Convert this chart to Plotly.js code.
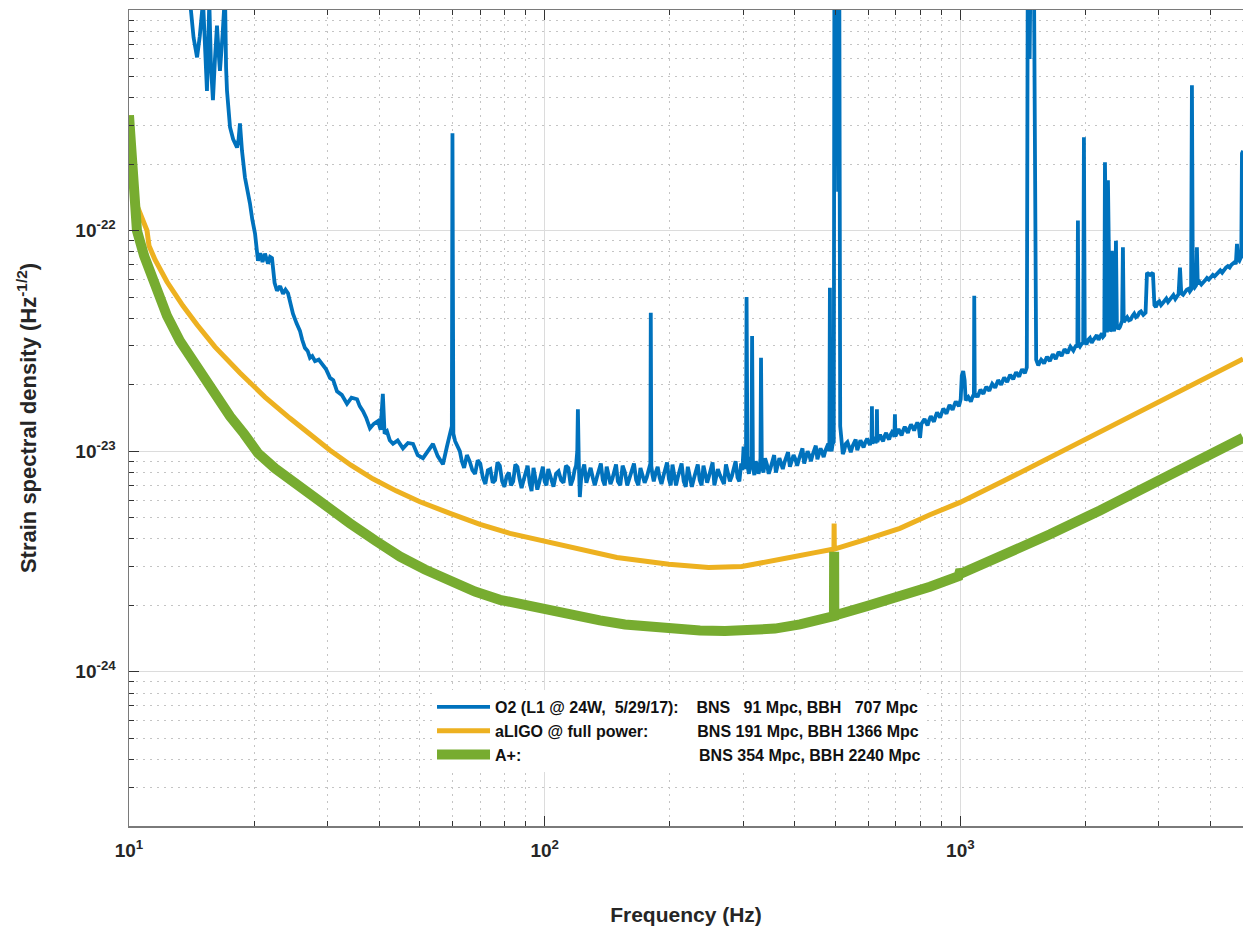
<!DOCTYPE html>
<html><head><meta charset="utf-8">
<script src="https://cdn.plot.ly/plotly-3.0.1.min.js"></script>
<style>html,body{margin:0;padding:0;background:#fff;}#chart{width:1243px;height:928px;}</style>
</head><body><div id="chart"></div>
<script>
// O2 L1 measured strain ASD, [frequency Hz, strain / sqrt(Hz)]
const o2Spectrum = [
 [13.9,1.3e-21],[14.3,7.5e-22],[14.58,6.1e-22],[14.8,7.6e-22],[15.07,1.1e-21],[15.25,6.0e-22],[15.4,4.3e-22],[15.5,6.5e-22],[15.6,1.1e-21],[15.75,5.5e-22],
 [15.92,3.9e-22],[16.1,6.0e-22],[16.28,8.5e-22],[16.45,6.2e-22],[16.55,5.3e-22],[16.8,7.8e-22],[17.02,1.2e-21],[17.12,5.5e-22],[17.21,4.3e-22],[17.5,2.94e-22],
 [17.8,2.6e-22],[18.19,2.38e-22],[18.35,2.6e-22],[18.49,3.06e-22],[18.7,2.3e-22],[19.01,1.74e-22],[19.25,1.55e-22],[19.54,1.33e-22],[19.8,1.12e-22],[20.1,9.7e-23],
 [20.43,7.3e-23],[20.7,7.9e-23],[20.95,7.2e-23],[21.24,7.86e-23],[21.6,7.08e-23],[21.85,7.6e-23],[22.08,7.5e-23],[22.4,5.8e-23],[22.7,5.34e-23],[23.1,5.6e-23],
 [23.47,5.17e-23],[23.8,5.4e-23],[24.13,5.2e-23],[24.5,4.5e-23],[24.8,4.2e-23],[25.3,3.8e-23],[25.78,3.51e-23],[26.1,3.2e-23],[26.5,2.94e-23],[26.9,2.85e-23],
 [27.25,2.65e-23],[27.6,2.7e-23],[28.02,2.56e-23],[28.6,2.6e-23],[29.29,2.43e-23],[29.8,2.35e-23],[30.45,2.15e-23],[31.0,2.1e-23],[31.65,1.87e-23],[32.5,1.8e-23],
 [33.45,1.64e-23],[34.3,1.75e-23],[35.37,1.72e-23],[35.9,1.6e-23],[36.56,1.52e-23],[37.2,1.42e-23],[37.99,1.27e-23],[38.8,1.33e-23],[39.72,1.37e-23],[40.3,1.25e-23],
 [40.8,1.82e-23],[41.2,1.2e-23],[41.75,1.23e-23],[42.4,1.12e-23],[43.16,1.08e-23],[44.3,1.12e-23],[45.61,1.03e-23],[46.9,1.09e-23],[48.22,1.08e-23],[49.5,9.6e-24],
 [50.96,9.3e-24],[52.3,1.0e-23],[53.86,1.08e-23],[55.3,9.5e-24],[56.93,8.73e-24],[58.2,1.05e-23],[59.18,1.19e-23],[59.8,1.3e-23],[60.0,2.76e-22],[60.3,1.2e-23],
 [60.9,1.11e-23],
 [62.5,1.0e-23],[63.2,9.0e-24],[64,8.4e-24],[65,9.6e-24],[66,9.0e-24],[67,8.2e-24],[68,7.9e-24],[69,9.1e-24],[70,8.8e-24],[71,7.6e-24],
 [72,7.1e-24],[73,8.2e-24],[74,8.3e-24],[75,7.2e-24],[76,7.4e-24],[77,8.9e-24],[78,8.6e-24],[79,7.3e-24],[80,6.9e-24],[81,7.7e-24],
 [82,8.0e-24],[83,7.0e-24],[84,7.3e-24],[85,8.7e-24],[86,8.5e-24],[87,7.5e-24],[88,6.8e-24],[89,7.4e-24],[90,7.9e-24],[91,8.6e-24],
 [92,7.2e-24],[93,6.6e-24],[94,8.4e-24],[95,7.6e-24],[96,6.7e-24],[97,7.2e-24],[98,7.8e-24],[99,8.5e-24],[100,7.3e-24],[101,7.0e-24],
 [102,8.3e-24],[103.5,7.6e-24],[105,6.9e-24],[106.5,7.9e-24],[108,8.1e-24],[109.5,7.4e-24],[111,7.2e-24],[112.5,8.6e-24],[114,8.4e-24],[115.5,7.0e-24],
 [117,7.5e-24],[118,8.2e-24],[119,8.6e-24],[119.8,1.0e-23],[120.2,1.55e-23],[120.8,9.0e-24],[121.5,6.2e-24],[122.3,7.4e-24],[123,8.0e-24],[124.5,8.7e-24],
 [126,7.2e-24],[127.5,7.8e-24],[129,8.4e-24],[130.5,7.6e-24],[132,7.0e-24],[133.5,7.6e-24],[135,8.2e-24],[136.5,8.8e-24],[138,7.4e-24],[139.5,7.0e-24],
 [141,8.5e-24],[142.5,7.8e-24],[144,7.1e-24],[145.5,7.5e-24],[147,8.0e-24],[148.5,8.7e-24],[150,7.3e-24],[152,7.0e-24],[154,8.6e-24],[156,8.0e-24],
 [158,7.0e-24],[160,7.6e-24],[162,8.2e-24],[164,8.8e-24],[166,7.4e-24],[168,7.0e-24],[170,8.4e-24],[172,7.8e-24],[174,7.2e-24],[176,7.6e-24],
 [178,8.3e-24],[179.6,8.8e-24],[180,4.24e-23],[180.5,8.6e-24],[181.7,7.8e-24],[183,7.3e-24],[185,8.0e-24],[187,8.5e-24],[189,7.6e-24],[191,7.1e-24],
 [193,7.7e-24],[195,8.3e-24],[197,8.9e-24],[199,7.5e-24],[201,7.0e-24],[203,8.7e-24],[205,7.9e-24],[207,7.0e-24],[209,7.6e-24],[211,8.2e-24],
 [213.5,8.8e-24],[216,7.3e-24],[218.5,6.9e-24],[221,8.5e-24],[223.5,7.7e-24],[226,6.9e-24],[228.5,7.5e-24],[231,8.1e-24],[233.5,8.7e-24],[236,7.4e-24],
 [238.5,7.0e-24],[241,8.6e-24],[243.5,7.9e-24],[246,7.2e-24],[248.5,7.7e-24],[251,8.4e-24],[253.5,8.9e-24],[256,7.0e-24],[258.5,7.5e-24],[261,8.3e-24],
 [264,7.8e-24],[267,7.5e-24],[270,7.1e-24],[273,8.7e-24],[276,8.0e-24],[279,7.3e-24],[282,7.7e-24],[285,8.5e-24],[288,9.0e-24],[291,7.6e-24],
 [294,7.3e-24],[297,8.8e-24],[299,8.2e-24],[301,1.05e-23],[303,8.3e-24],[305,9.0e-24],[306,5.0e-23],[307.5,8.6e-24],[310,7.9e-24],[312,8.8e-24],
 [314.5,9.5e-24],[315.5,3.33e-23],[317,8.4e-24],[319.5,7.8e-24],[322,9.0e-24],[324.5,8.6e-24],[327,7.9e-24],[329,8.4e-24],[330.5,9.3e-24],[331.5,2.65e-23],
 [333,8.5e-24],[336,8.0e-24],[339,9.3e-24],[342.5,8.7e-24],[346,7.9e-24],[349.5,8.4e-24],[353,9.1e-24],[356.5,9.6e-24],[360,8.0e-24],[363.5,8.6e-24],
 [367,9.3e-24],[370.5,8.8e-24],[374,8.3e-24],[377.5,8.9e-24],[381,9.4e-24],[385,9.9e-24],[389,8.5e-24],[393,9.0e-24],[397,9.6e-24],[401,9.2e-24],
 [405,8.6e-24],[409,9.2e-24],[413,9.8e-24],[417,1.03e-23],[421,8.8e-24],[425,9.4e-24],[429,1.0e-23],[433,9.6e-24],[437,9.0e-24],[441,9.6e-24],
 [445,1.0e-23],[449,1.06e-23],[453,9.2e-24],[457,9.8e-24],[461,1.03e-23],[465,9.9e-24],[469,9.4e-24],[473,1.0e-23],[477,1.05e-23],[481,1.08e-23],
 [484,1.0e-23],[485.5,5.5e-23],[487,1.05e-23],[490,1.0e-23],[493,1.08e-23],[496,1.1e-23],[498,3.0e-21],[501,2.0e-22],[504,3.0e-21],[508,1.5e-22],
 [511,3.0e-21],[514,1.3e-23],[518,1.05e-23],[521.5,9.7e-24],
 [525,1.0e-23],[530,1.08e-23],[535,1.1e-23],[540,1.03e-23],[545,9.9e-24],[550,1.05e-23],[555,1.09e-23],[560,1.13e-23],[565,1.01e-23],[570,1.06e-23],
 [575,1.12e-23],[580,1.08e-23],[585,1.04e-23],[591,1.1e-23],[597,1.14e-23],[601,1.1e-23],[606,1.07e-23],[611.5,1.12e-23],[612.8,1.6e-23],[614,1.08e-23],
 [617.5,1.13e-23],[621,1.16e-23],[625,1.09e-23],[628.5,1.12e-23],[630,1.55e-23],[631.5,1.1e-23],[636,1.15e-23],[641,1.19e-23],[646,1.14e-23],[652,1.11e-23],
 [657,1.17e-23],[663,1.21e-23],[668,1.16e-23],[674,1.13e-23],[680,1.19e-23],[685,1.22e-23],[690,1.2e-23],[694,1.16e-23],[696,1.47e-23],[698,1.17e-23],
 [704,1.21e-23],[710,1.26e-23],[716,1.22e-23],[722,1.18e-23],[728,1.24e-23],[735,1.29e-23],[741,1.25e-23],[748,1.21e-23],[754,1.27e-23],[761,1.32e-23],
 [767,1.29e-23],[774,1.24e-23],[781,1.3e-23],[788,1.35e-23],[794,1.3e-23],[800,1.15e-23],[806,1.33e-23],[813,1.37e-23],[820,1.4e-23],[827,1.35e-23],
 [834,1.31e-23],[841,1.38e-23],[849,1.44e-23],[856,1.4e-23],[864,1.36e-23],[871,1.43e-23],[879,1.5e-23],[886,1.46e-23],[894,1.42e-23],[902,1.49e-23],
 [910,1.56e-23],[918,1.52e-23],[926,1.48e-23],[934,1.55e-23],[942,1.62e-23],[950,1.58e-23],[958,1.54e-23],[966,1.61e-23],[975,1.68e-23],[983,1.64e-23],
 [992,1.6e-23],[997,1.66e-23],[1002,1.72e-23],[1008,2.2e-23],[1016,2.31e-23],[1024,2.1e-23],[1030,1.7e-23],[1037,1.73e-23],[1045,1.76e-23],[1052,1.72e-23],
 [1060,1.68e-23],[1067,1.74e-23],[1075,1.8e-23],[1078,1.75e-23],[1080,5.07e-23],[1083,1.82e-23],[1091,1.8e-23],[1100,1.76e-23],[1109,1.83e-23],[1118,1.9e-23],
 [1127,1.86e-23],[1136,1.82e-23],[1145,1.89e-23],[1155,1.96e-23],[1164,1.92e-23],[1174,1.88e-23],[1183,1.95e-23],[1193,2.02e-23],[1203,1.98e-23],[1213,1.94e-23],
 [1223,2.02e-23],[1233,2.1e-23],[1243,2.05e-23],[1254,2.0e-23],[1264,2.08e-23],[1275,2.16e-23],[1285,2.11e-23],[1296,2.06e-23],[1307,2.14e-23],[1318,2.22e-23],
 [1329,2.17e-23],[1340,2.12e-23],[1351,2.2e-23],[1362,2.28e-23],[1373,2.23e-23],[1385,2.18e-23],[1396,2.27e-23],[1408,2.35e-23],[1419,2.3e-23],[1430,2.26e-23],
 [1445,2.4e-23],[1454,3.0e-21],[1468,6.0e-22],[1480,3.0e-21],[1500,3.0e-21],[1512,1.1e-22],[1522,2.6e-23],[1531,2.52e-23],[1540,2.45e-23],[1552,2.53e-23],
 [1565,2.6e-23],[1577,2.56e-23],[1590,2.5e-23],[1603,2.59e-23],[1616,2.68e-23],[1629,2.62e-23],[1642,2.56e-23],[1655,2.66e-23],[1669,2.75e-23],[1682,2.69e-23],
 [1696,2.62e-23],[1710,2.72e-23],[1724,2.82e-23],[1738,2.76e-23],[1752,2.7e-23],[1766,2.8e-23],[1781,2.9e-23],[1795,2.84e-23],[1810,2.78e-23],[1825,2.88e-23],
 [1840,2.98e-23],[1855,2.92e-23],[1870,2.86e-23],[1885,2.95e-23],[1900,3.02e-23],[1912,2.95e-23],[1918,1.11e-22],[1924,3.05e-23],[1940,2.98e-23],[1957,3.06e-23],
 [1975,3.1e-23],[1983,2.65e-22],[1992,3.12e-23],[2011,3.05e-23],[2030,3.2e-23],[2050,3.26e-23],[2070,3.1e-23],[2090,3.2e-23],[2110,3.3e-23],[2130,3.36e-23],
 [2150,3.2e-23],[2170,3.32e-23],[2190,3.42e-23],[2205,3.3e-23],[2220,3.35e-23],[2228,2.04e-22],[2240,3.6e-23],[2252,3.45e-23],[2265,1.69e-22],[2280,3.7e-23],
 [2290,3.5e-23],[2300,3.55e-23],[2316,8.1e-23],[2330,3.6e-23],[2342,3.5e-23],[2355,3.7e-23],[2368,9.0e-23],[2380,3.75e-23],[2400,3.58e-23],[2420,3.65e-23],
 [2435,3.8e-23],[2450,3.9e-23],[2461,8.4e-23],[2472,3.85e-23],[2496,3.95e-23],[2520,4.05e-23],[2545,3.92e-23],[2570,3.95e-23],[2595,4.1e-23],[2620,4.2e-23],
 [2645,4.05e-23],[2670,4.1e-23],[2695,4.25e-23],[2720,4.3e-23],[2755,4.15e-23],[2790,4.25e-23],[2812,6.44e-23],[2860,6.3e-23],[2906,6.44e-23],[2930,4.6e-23],
 [2955,4.5e-23],[2980,4.7e-23],[3010,4.78e-23],[3040,4.6e-23],[3070,4.7e-23],[3100,4.85e-23],[3130,4.92e-23],[3160,4.75e-23],[3190,4.85e-23],[3220,5.0e-23],
 [3255,5.1e-23],[3290,4.9e-23],[3320,5.0e-23],[3350,5.15e-23],[3376,6.8e-23],[3400,5.2e-23],[3435,5.12e-23],[3470,5.3e-23],[3505,5.4e-23],[3540,5.45e-23],
 [3565,5.3e-23],[3590,5.4e-23],[3607,4.56e-22],[3625,5.6e-23],[3655,5.5e-23],[3690,5.65e-23],[3708,8.4e-23],[3725,5.75e-23],[3760,5.85e-23],[3800,5.7e-23],
 [3840,5.8e-23],[3880,5.95e-23],[3920,6.1e-23],[3960,6.0e-23],[4005,6.15e-23],[4050,6.3e-23],[4090,6.2e-23],[4130,6.35e-23],[4175,6.5e-23],[4220,6.6e-23],
 [4265,6.45e-23],[4310,6.65e-23],[4355,6.8e-23],[4400,6.9e-23],[4445,6.8e-23],[4490,7.0e-23],[4530,7.1e-23],[4570,7.2e-23],[4600,7.05e-23],[4629,8.7e-23],
 [4660,7.4e-23],[4690,7.3e-23],[4720,7.5e-23],[4740,7.6e-23],[4759,2.24e-22],[4790,2.3e-22]
];
// aLIGO design at full power
const aligoFreq = [10,10.22,10.45,11.05,11.17,11.55,12.34,13.48,14.58,16.1,
 18.5,21.24,24.4,27.25,30.45,34.2,38.6,43.9,50.1,59.2,
 69.9,82.5,100,121.6,149.2,199,248,298,329.6,400,
 447,494,496.5,497,497.5,593,715.6,845,998,1266,
 1500,2000,3000,4000,4786];
const aligoAsd = [3.33e-22,1.87e-22,1.3e-22,1.0e-22,8.55e-23,7.38e-23,5.86e-23,4.56e-23,3.74e-23,2.97e-23,
 2.26e-23,1.76e-23,1.41e-23,1.195e-23,1.01e-23,8.64e-24,7.5e-24,6.61e-24,5.9e-24,5.23e-24,
 4.66e-24,4.24e-24,3.9e-24,3.58e-24,3.3e-24,3.07e-24,2.97e-24,3.0e-24,3.1e-24,3.33e-24,
 3.47e-24,3.58e-24,3.6e-24,4.7e-24,3.6e-24,3.98e-24,4.47e-24,5.15e-24,5.86e-24,7.3e-24,
 8.6e-24,1.13e-23,1.67e-23,2.19e-23,2.62e-23];
// A+ design
const aplusFreq = [10,10.17,10.28,10.45,10.87,11.42,12.34,13.26,14.58,15.92,
 17.5,18.91,20.43,22.45,24.66,28.96,34.01,39.06,44.86,51.52,
 59.18,67.97,78.06,87.24,100,115.05,135.8,156,179.2,205.8,
 236.4,271.5,311.8,358.1,411.3,451.8,493.8,496.5,497,497.5,
 592.9,715.6,845.2,990,1000,1010,1245,1643,2167,2972,
 3771,4786];
const aplusAsd = [3.33e-22,1.97e-22,1.37e-22,1.0e-22,7.7e-23,5.93e-23,4.11e-23,3.16e-23,2.38e-23,1.85e-23,
 1.44e-23,1.2e-23,9.8e-24,8.37e-24,7.3e-24,5.86e-24,4.71e-24,3.94e-24,3.33e-24,2.91e-24,
 2.56e-24,2.31e-24,2.12e-24,2.02e-24,1.91e-24,1.8e-24,1.71e-24,1.64e-24,1.6e-24,1.56e-24,
 1.54e-24,1.53e-24,1.54e-24,1.57e-24,1.64e-24,1.7e-24,1.78e-24,1.79e-24,3.5e-24,1.8e-24,
 1.98e-24,2.19e-24,2.43e-24,2.71e-24,2.9e-24,2.8e-24,3.3e-24,4.2e-24,5.39e-24,7.23e-24,
 9.1e-24,1.15e-23];

const seriesLabels = ['O2 (L1 @ 24W,\u00a0\u00a05/29/17):', 'aLIGO @ full power:', 'A+:'];
const seriesRanges = ['BNS\u00a0\u00a0\u00a091 Mpc, BBH\u00a0\u00a0\u00a0707 Mpc', 'BNS 191 Mpc, BBH 1366 Mpc', 'BNS 354 Mpc, BBH 2240 Mpc'];
const seriesColors = ['#0072BD', '#EDB120', '#77AC30'];
const xTickVals = [10, 100, 1000];
const xTickText = ['10<sup>1</sup>', '10<sup>2</sup>', '10<sup>3</sup>'];
const yTickVals = [1e-24, 1e-23, 1e-22];
const yTickText = ['10<sup>-24</sup>', '10<sup>-23</sup>', '10<sup>-22</sup>'];
const xTitle = 'Frequency (Hz)';
const yTitle = 'Strain spectral density (Hz<sup>-1/2</sup>)';

const o2Freq = o2Spectrum.map(p => p[0]);
const o2Asd = o2Spectrum.map(p => p[1]);

const FONT = 'Liberation Sans, Arial, Helvetica, sans-serif';
// pad legend labels so the range column lines up
const cv = document.createElement('canvas').getContext('2d');
cv.font = 'bold 16px "Liberation Sans"';
const colOffset = 202;
const nb = cv.measureText('\u00a0').width;
const names = seriesLabels.map((s, i) => {
  const n = Math.max(1, Math.round((colOffset - cv.measureText(s).width) / nb));
  return s + '\u00a0'.repeat(n) + seriesRanges[i];
});

const xs = [o2Freq, aligoFreq, aplusFreq];
const ys = [o2Asd, aligoAsd, aplusAsd];
const widths = [3.8, 5, 10];
const traces = xs.map((x, i) => ({
  type: 'scatter', mode: 'lines', x: x, y: ys[i], name: names[i],
  line: {color: seriesColors[i], width: widths[i]},
  hoverinfo: 'skip'
}));

const minorCommon = {ticks: 'inside', ticklen: 5, tickcolor: '#333', tickwidth: 1,
  showgrid: true, gridcolor: '#c4c4c4', griddash: '2px,5px', gridwidth: 1};
const layout = {
  width: 1243, height: 928,
  margin: {l: 129, r: 0, t: 10, b: 102, pad: 0},
  paper_bgcolor: '#fff', plot_bgcolor: '#fff',
  font: {family: FONT, color: '#262626'},
  showlegend: true,
  legend: {x: 0.272, xanchor: 'left', y: 0.1666, yanchor: 'top', bgcolor: '#fff',
    borderwidth: 0, itemwidth: 53, tracegroupgap: 0,
    font: {family: FONT, size: 16, weight: 'bold', color: '#111'}},
  xaxis: {type: 'log', range: [1, 3.68], tickmode: 'array', tickvals: xTickVals, ticktext: xTickText,
    ticks: 'inside', ticklen: 10, tickwidth: 1, tickcolor: '#333', ticklabelstandoff: 7,
    tickfont: {family: FONT, size: 19, weight: 'bold', color: '#262626'},
    showline: true, linecolor: '#7a7a7a', linewidth: 1.5, mirror: 'ticks',
    showgrid: true, gridcolor: '#dcdcdc', gridwidth: 1, zeroline: false, automargin: false,
    minor: Object.assign({dtick: 'D1'}, minorCommon),
    title: {text: xTitle, standoff: 47, font: {family: FONT, size: 21, weight: 'bold', color: '#262626'}}},
  yaxis: {type: 'log', range: [Math.log10(2e-25), -21], tickmode: 'array', tickvals: yTickVals, ticktext: yTickText,
    ticks: 'inside', ticklen: 10, tickwidth: 1, tickcolor: '#333', ticklabelstandoff: 8,
    tickfont: {family: FONT, size: 19, weight: 'bold', color: '#262626'},
    showline: true, linecolor: '#7a7a7a', linewidth: 1.5, mirror: false,
    showgrid: true, gridcolor: '#dcdcdc', gridwidth: 1, zeroline: false, automargin: false,
    minor: Object.assign({dtick: 'D1'}, minorCommon),
    title: {text: yTitle, standoff: 32, font: {family: FONT, size: 22, weight: 'bold', color: '#262626'}}}
};
Plotly.newPlot('chart', traces, layout, {displayModeBar: false, staticPlot: true});
</script>
</body></html>
